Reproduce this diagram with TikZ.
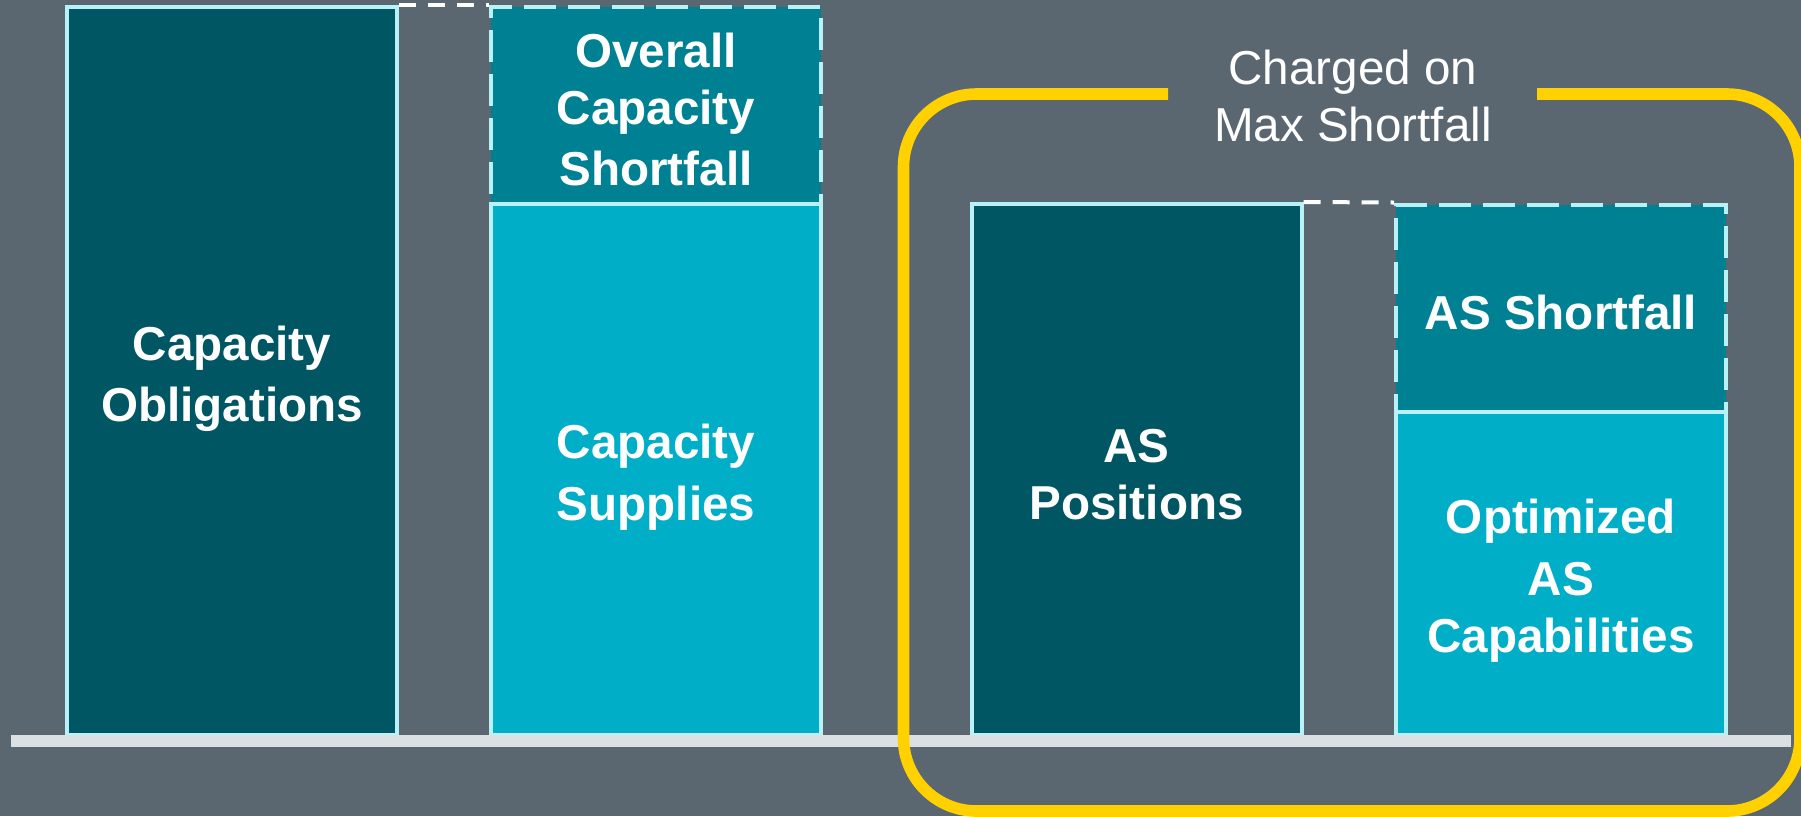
\documentclass[tikz,border=0pt]{standalone}
\usepackage{fontspec}
\setmainfont{Liberation Sans}
\definecolor{bgc}{HTML}{5B6770}
\definecolor{darkteal}{HTML}{005763}
\definecolor{midteal}{HTML}{008193}
\definecolor{lightteal}{HTML}{00AEC7}
\definecolor{edgecyan}{HTML}{B8F2F8}
\definecolor{basegray}{HTML}{DDE0E3}
\definecolor{goldline}{HTML}{FFD100}
\newcommand{\ls}{\rule[-3.75pt]{0pt}{28.5pt}}
\begin{document}
\begin{tikzpicture}[x=0.5pt,y=-0.5pt,
  barbox/.style={draw=edgecyan, line width=2pt, inner sep=0pt, minimum width=165pt,
     text=white, align=center, font=\fontsize{23.8pt}{28.5pt}\selectfont\bfseries},
  gapbox/.style={barbox, fill=midteal, line width=2pt, dash pattern=on 16pt off 6pt},
  linkline/.style={draw=white, line width=2pt, dash pattern=on 8.5pt off 6pt},
  bracket/.style={draw=goldline, line width=5.8pt, rounded corners=36.5pt},
  note/.style={text=white, align=center, font=\fontsize{23.8pt}{28.5pt}\selectfont}
]
\useasboundingbox[fill=bgc] (0,0) rectangle (1801,816);

% top (shortfall) boxes
\node[gapbox, minimum height=98.5pt] (ocs) at (656,105.5) {\ls Overall\\\ls Capacity\\\ls Shortfall};
\node[gapbox, minimum height=103.5pt] (ass) at (1561,308) {\ls AS Shortfall};

% solid bars
\node[barbox, fill=darkteal, minimum height=364pt] (co) at (232,371) {\ls Capacity\\\ls Obligations};
\node[barbox, fill=lightteal, minimum height=265.5pt] (cs) at (656,469.5) {\ls Capacity\\\ls Supplies};
\node[barbox, fill=darkteal, minimum height=265.5pt] (asp) at (1136.5,469.5) {\ls AS\\\ls Positions};
\node[barbox, fill=lightteal, minimum height=161.75pt] (oac) at (1561,573.25) {\ls Optimized\\\ls AS\\\ls Capabilities};

% dashed links
\draw[linkline] (co.north east) -- (ocs.north west);
\draw[linkline] (asp.north east) -- (ass.north west);

% baseline
\node[fill=basegray, inner sep=0pt, minimum width=890pt, minimum height=6pt] (base) at (901,741) {};

% bracket
\coordinate (gapL) at (1168,94);
\coordinate (gapR) at (1537,94);
\draw[bracket] (gapL) -- (903.5,94) -- (903.5,811) -- (1800,811) -- (1800,94) -- (gapR);

\node[note] (label) at (1353,96) {Charged on\\Max Shortfall};
\end{tikzpicture}
\end{document}
